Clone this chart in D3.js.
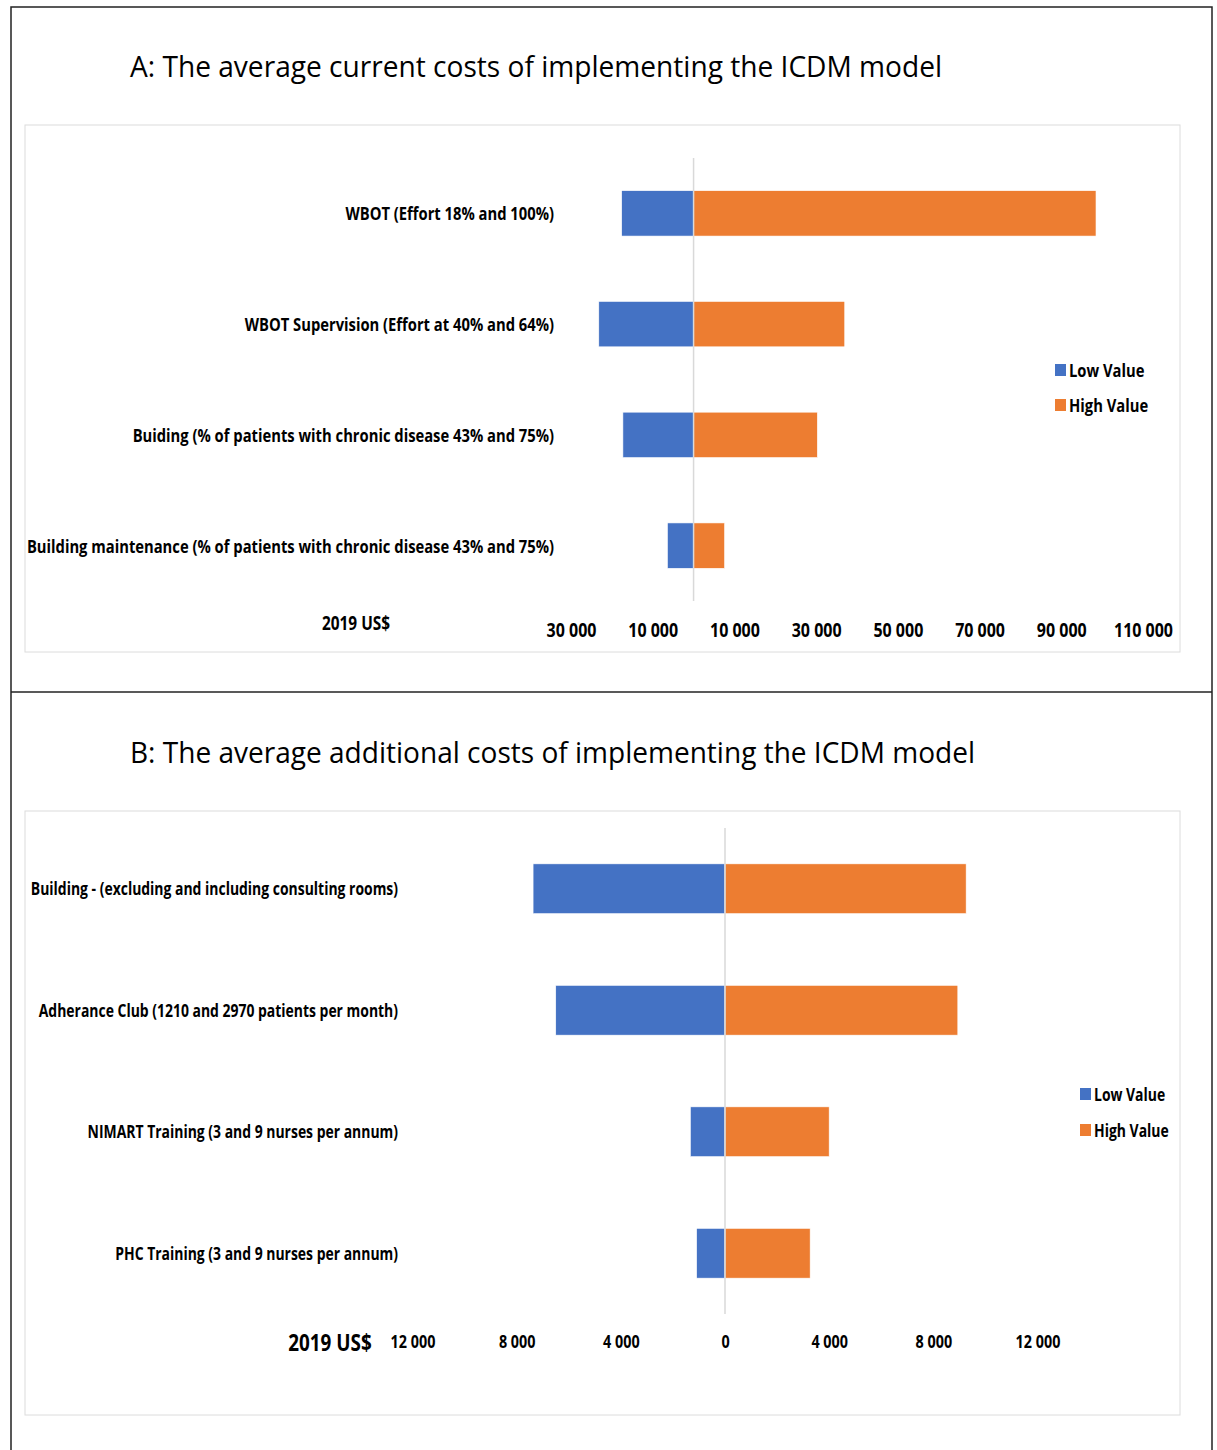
<!DOCTYPE html>
<html>
<head>
<meta charset="utf-8">
<script src="https://cdn.jsdelivr.net/npm/d3@7"></script>
<style>
  body { margin: 0; background: #fff; }
  text { font-family: "Open Sans", "DejaVu Sans", sans-serif; fill: #000; }
</style>
</head>
<body>
<svg id="fig" width="1217" height="1450"></svg>
<script>
// ---- Panel A: current costs (2019 US$) ----
const currentCategories = [
  "WBOT (Effort 18% and 100%)",
  "WBOT Supervision (Effort at 40% and 64%)",
  "Buiding (% of patients with chronic disease 43% and 75%)",
  "Building maintenance (% of patients with chronic disease 43% and 75%)"
];
const currentLow  = [17600, 23200, 17300, 6400];
const currentHigh = [98500, 37000, 30300, 7600];
const currentTicks = [-30000, -10000, 10000, 30000, 50000, 70000, 90000, 110000];
const currentDomain = [-30000, 110000];

// ---- Panel B: additional costs (2019 US$) ----
const additionalCategories = [
  "Building - (excluding and including consulting rooms)",
  "Adherance Club (1210 and 2970 patients per month)",
  "NIMART Training (3 and 9 nurses per annum)",
  "PHC Training (3 and 9 nurses per annum)"
];
const additionalLow  = [7370, 6500, 1330, 1090];
const additionalHigh = [9260, 8940, 4000, 3270];
const additionalTicks = [-12000, -8000, -4000, 0, 4000, 8000, 12000];
const additionalDomain = [-12000, 12000];

const seriesNames = ["Low Value", "High Value"];
const seriesColors = ["#4472C4", "#ED7D31"];

// horizontal squeeze that gives the bold labels a condensed face
const CONDENSE = 0.82;

const svg = d3.select("#fig");
const locale = d3.formatLocale({ decimal: ".", thousands: " ", grouping: [3], currency: ["", ""] });
const fmt = locale.format(",d");

function condense(sel, k) {
  sel.each(function () {
    const w = this.getComputedTextLength();
    d3.select(this).attr("textLength", w * k).attr("lengthAdjust", "spacingAndGlyphs");
  });
}

// outer figure frame and divider between the two panels
svg.append("rect").attr("x", 11).attr("y", 7).attr("width", 1201).attr("height", 1460)
  .attr("fill", "none").attr("stroke", "#222").attr("stroke-width", 1.5);
svg.append("line").attr("x1", 11).attr("x2", 1212).attr("y1", 692).attr("y2", 692)
  .attr("stroke", "#222").attr("stroke-width", 1.5);

function drawPanel(cfg) {
  const g = svg.append("g");

  // panel title
  g.append("text")
    .attr("x", cfg.title.x).attr("y", cfg.title.y)
    .attr("textLength", cfg.title.width).attr("lengthAdjust", "spacingAndGlyphs")
    .style("font-size", "30px")
    .text(cfg.title.text);

  // chart area border
  g.append("rect")
    .attr("x", cfg.box.x).attr("y", cfg.box.y).attr("width", cfg.box.w).attr("height", cfg.box.h)
    .attr("fill", "#fff").attr("stroke", "#dcdcdc").attr("stroke-width", 1);

  const x = d3.scaleLinear().domain(cfg.domain).range(cfg.xRange);
  const y = d3.scaleBand().domain(cfg.categories).range(cfg.yRange).paddingInner(0.59).paddingOuter(0.295);

  const rows = cfg.categories.map((c, i) => ({ c, low: cfg.low[i], high: cfg.high[i] }));

  // low-value bars extend left of zero, high-value bars extend right
  g.selectAll("rect.low").data(rows).join("rect").attr("class", "low")
    .attr("x", d => x(-d.low)).attr("width", d => x(0) - x(-d.low))
    .attr("y", d => y(d.c)).attr("height", y.bandwidth())
    .attr("fill", seriesColors[0]).attr("stroke", "#fff").attr("stroke-width", 0.6);
  g.selectAll("rect.high").data(rows).join("rect").attr("class", "high")
    .attr("x", x(0)).attr("width", d => x(d.high) - x(0))
    .attr("y", d => y(d.c)).attr("height", y.bandwidth())
    .attr("fill", seriesColors[1]).attr("stroke", "#fff").attr("stroke-width", 0.6);

  // zero reference line
  g.append("line").attr("x1", x(0)).attr("x2", x(0))
    .attr("y1", cfg.yRange[0]).attr("y2", cfg.yRange[1])
    .attr("stroke", "#d9d9d9").attr("stroke-width", 1.5);

  // category labels
  g.selectAll("text.cat").data(rows).join("text").attr("class", "cat")
    .attr("x", cfg.labelX).attr("y", d => y(d.c) + y.bandwidth() / 2)
    .attr("text-anchor", "end").attr("dominant-baseline", "central")
    .style("font-weight", "bold").style("font-size", cfg.labelSize + "px")
    .text(d => d.c)
    .call(condense, CONDENSE);

  // value axis (absolute values on both sides of zero)
  const axis = d3.axisBottom(x).tickValues(cfg.ticks).tickSize(0).tickPadding(0)
    .tickFormat(v => fmt(Math.abs(v)));
  const ax = g.append("g").attr("transform", `translate(0,${cfg.tickY})`).call(axis);
  ax.select(".domain").remove();
  ax.selectAll("text")
    .attr("y", 0).attr("dy", "0.35em")
    .style("font-family", "'Open Sans', sans-serif")
    .style("font-weight", "bold").style("font-size", cfg.tickSize + "px").attr("fill", "#000")
    .call(condense, CONDENSE);

  // unit label
  g.append("text").attr("x", cfg.unit.x).attr("y", cfg.unit.y)
    .attr("text-anchor", "middle").attr("dominant-baseline", "central")
    .style("font-weight", "bold").style("font-size", cfg.unit.size + "px")
    .text("2019 US$")
    .call(condense, CONDENSE);

  // legend
  const lg = g.append("g").attr("transform", `translate(${cfg.legend.x},${cfg.legend.y})`);
  seriesNames.forEach((name, i) => {
    const row = lg.append("g").attr("transform", `translate(0,${i * cfg.legend.gap})`);
    row.append("rect").attr("x", 0).attr("y", -6).attr("width", 11).attr("height", 12)
      .attr("fill", seriesColors[i]);
    row.append("text").attr("x", 14).attr("y", 0).attr("dominant-baseline", "central")
      .style("font-weight", "bold").style("font-size", cfg.legend.size + "px").text(name)
      .call(condense, CONDENSE);
  });
}

drawPanel({
  title: { text: "A: The average current costs of implementing the ICDM model", x: 130, y: 77, width: 812 },
  box: { x: 25, y: 125, w: 1155, h: 527 },
  categories: currentCategories, low: currentLow, high: currentHigh,
  domain: currentDomain, ticks: currentTicks,
  xRange: [571, 1143], yRange: [158, 601],
  labelX: 554, labelSize: 18, tickY: 630, tickSize: 19.5,
  unit: { x: 356, y: 623, size: 18.8 },
  legend: { x: 1055, y: 370, gap: 35, size: 18 }
});

drawPanel({
  title: { text: "B: The average additional costs of implementing the ICDM model", x: 130, y: 763, width: 845 },
  box: { x: 25, y: 811, w: 1155, h: 604 },
  categories: additionalCategories, low: additionalLow, high: additionalHigh,
  domain: additionalDomain, ticks: additionalTicks,
  xRange: [412.5, 1037.5], yRange: [828, 1314],
  labelX: 398, labelSize: 17, tickY: 1342, tickSize: 17.5,
  unit: { x: 330, y: 1342, size: 23 },
  legend: { x: 1080, y: 1094, gap: 36, size: 17 }
});
</script>
</body>
</html>
